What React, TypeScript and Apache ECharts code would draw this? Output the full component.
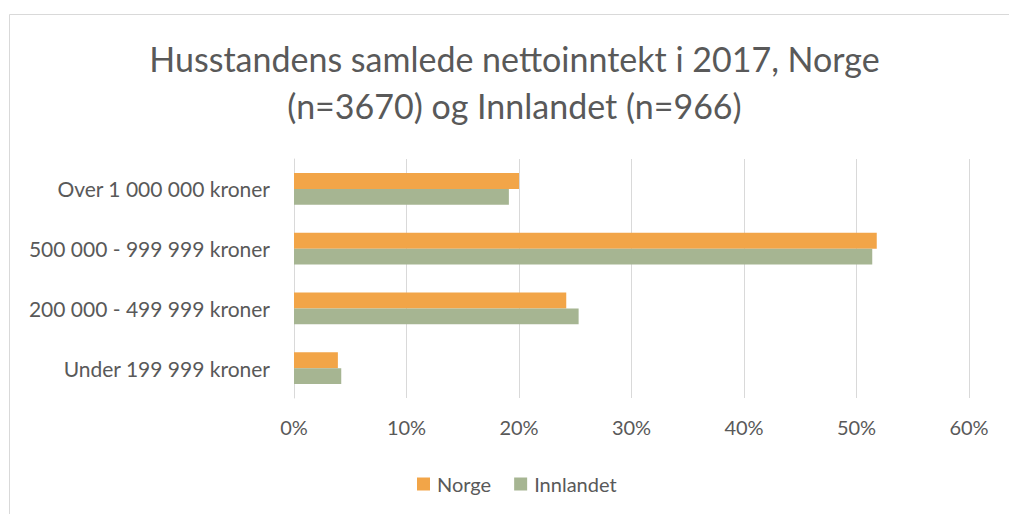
import React, { useEffect, useRef } from "react";
import * as echarts from "echarts";

const titleLines = ["Husstandens samlede nettoinntekt i 2017, Norge", "(n=3670) og Innlandet (n=966)"];
const categories = ["Over 1 000 000 kroner", "500 000 - 999 999 kroner", "200 000 - 499 999 kroner", "Under 199 999 kroner"];
const norge = [20.0, 51.8, 24.2, 3.9];
const innlandet = [19.1, 51.4, 25.3, 4.2];
const seriesNames = ["Norge", "Innlandet"];
const colors = ["#F2A548", "#A6B592"];

const FONT = "Lato";
const TXT = "#595959";

export default function App() {
  const ref = useRef<HTMLDivElement>(null);
  useEffect(() => {
    const chart = echarts.init(ref.current!, undefined, { renderer: "svg" });
    chart.setOption({
      animation: false,
      backgroundColor: "#ffffff",
      textStyle: { fontFamily: FONT },
      graphic: [
        {
          type: "rect",
          shape: { x: 9.5, y: 14.5, width: 1100, height: 600 },
          style: { fill: "none", stroke: "#d9d9d9", lineWidth: 1 },
          silent: true,
        },
        {
          type: "text",
          x: 514.5,
          y: 58,
          style: { text: titleLines[0], fontFamily: FONT, fontSize: 34, fill: TXT, align: "center", verticalAlign: "middle" },
        },
        {
          type: "text",
          x: 514.5,
          y: 105,
          style: { text: titleLines[1], fontFamily: FONT, fontSize: 34, fill: TXT, align: "center", verticalAlign: "middle" },
        },
      ],
      legend: {
        left: 412,
        top: 469,
        itemWidth: 13,
        itemHeight: 13,
        itemGap: 23,
        icon: "rect",
        textStyle: { fontFamily: FONT, fontSize: 20, color: TXT, padding: [0, 0, 0, 2] },
        data: seriesNames,
      },
      grid: { left: 294, right: 40, top: 159, bottom: 116, containLabel: false },
      xAxis: {
        type: "value",
        min: 0,
        max: 60,
        interval: 10,
        axisLine: { show: false },
        axisTick: { show: false },
        splitLine: { lineStyle: { color: "#d9d9d9", width: 1 } },
        axisLabel: { formatter: "{value}%", fontFamily: FONT, fontSize: 20, color: TXT, margin: 19 },
      },
      yAxis: {
        type: "category",
        inverse: true,
        data: categories,
        axisLine: { show: true, lineStyle: { color: "#d9d9d9" } },
        axisTick: { show: false },
        axisLabel: { fontFamily: FONT, fontSize: 21, color: TXT, margin: 24 },
      },
      series: [
        {
          name: seriesNames[0],
          type: "bar",
          data: norge,
          barGap: "0%",
          barCategoryGap: "47%",
          itemStyle: { color: colors[0] },
        },
        {
          name: seriesNames[1],
          type: "bar",
          data: innlandet,
          barGap: "0%",
          barCategoryGap: "47%",
          itemStyle: { color: colors[1] },
        },
      ],
    });
    return () => chart.dispose();
  }, []);
  return <div ref={ref} style={{ position: "fixed", left: 0, top: 0, width: 1009, height: 514 }} />;
}
